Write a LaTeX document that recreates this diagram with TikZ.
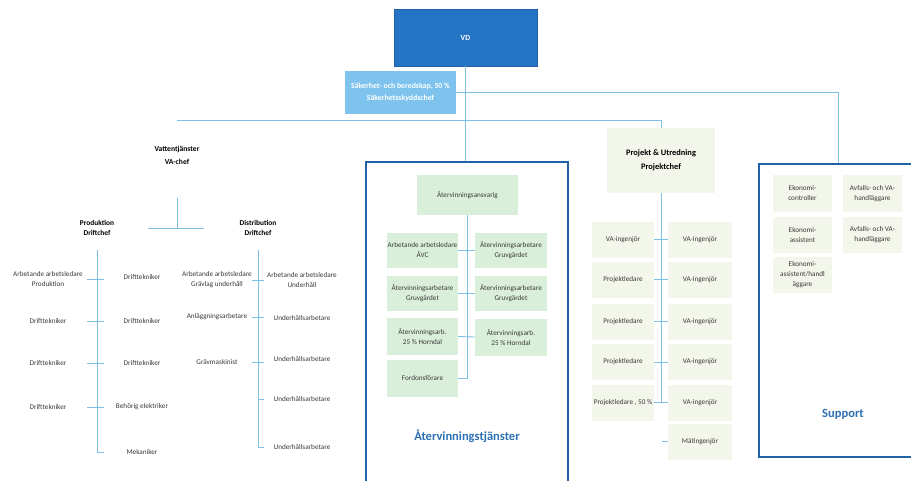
\documentclass[tikz,border=0pt]{standalone}
\usepackage{fontspec}
\setmainfont{Carlito}
\usetikzlibrary{calc}
\definecolor{vdblue}{HTML}{2473C5}
\definecolor{safeblue}{HTML}{7DC3EE}
\definecolor{lineblue}{HTML}{7EC0E6}
\definecolor{frameblue}{HTML}{1F62A6}
\definecolor{titleblue}{HTML}{2C70B4}
\definecolor{boxgreen}{HTML}{D9EFD9}
\definecolor{boxpale}{HTML}{F3F6EA}
\definecolor{itemgray}{HTML}{3A3A3A}
\tikzstyle{conn}=[draw=lineblue, line width=0.9pt]
\tikzstyle{item}=[align=center, inner sep=0pt, text=itemgray, font=\fontsize{7.2}{10}\selectfont]
\tikzstyle{leaf}=[item, minimum height=20pt]
\tikzstyle{head}=[align=center, inner sep=0pt, font=\fontsize{7.6}{13}\selectfont\bfseries]
\tikzstyle{subhead}=[align=center, inner sep=0pt, minimum height=44pt, font=\fontsize{7.4}{10}\selectfont\bfseries]
\tikzstyle{topbox}=[align=center, inner sep=0pt, text=white, font=\fontsize{7.8}{12}\selectfont\bfseries]
\tikzstyle{gbox}=[item, fill=boxgreen, minimum height=35pt]
\tikzstyle{pbox}=[item, fill=boxpale, minimum height=36pt]
\tikzstyle{frame}=[draw=frameblue, line width=1.8pt]
\tikzstyle{title}=[text=titleblue, font=\fontsize{12.5}{14}\selectfont\bfseries]

\begin{document}
\begin{tikzpicture}[x=1pt,y=-1pt]
	\fill[white] (0,0) rectangle (911,480);
	\useasboundingbox (0,0) rectangle (911,480);

	\node[topbox, fill=vdblue, draw=vdblue!85!black, minimum width=143pt, minimum height=57pt](vd) at (465.5,37.5){VD};
	\node[topbox, fill=safeblue, minimum width=111pt, minimum height=43pt](safety) at (400.5,92.5){Säkerhet- och beredskap, 50 \%\\Säkerhetsskyddschef};

	\node[frame, minimum width=202pt, minimum height=330pt](atv) at (467,327){};
	\node[frame, minimum width=158pt, minimum height=293pt](sup) at (838,310.5){};

	\node[head, minimum width=100pt, minimum height=86pt](vatten) at (177,155){Vattentjänster\\VA-chef};
	\node[pbox, font=\fontsize{8.4}{14}\selectfont\bfseries, text=black, minimum width=108pt, minimum height=65pt](proj) at (661,160.5){Projekt \& Utredning\\Projektchef};

	\coordinate (bus) at (466,120);
	\draw[conn] (vd.south) -- (vd.south |- atv.north);
	\draw[conn] (safety.east) -| (sup.north);
	\draw[conn] (bus -| vatten.north) -- (bus -| proj.north) -- (proj.north);

	% Vattentjänster
	\coordinate (vfoot) at (177,228);
	\draw[conn] (vatten.south) -- (vfoot);
	\draw[conn] ([xshift=-29pt]vfoot) -- ([xshift=27pt]vfoot);
	\node[subhead, minimum width=60pt](prod) at (97,228){Produktion\\Driftchef};
	\node[subhead, minimum width=60pt](dist) at (258,228){Distribution\\Driftchef};

	\node[leaf, minimum width=78pt](lp1) at (48,279){Arbetande arbetsledare\\Produktion};
	\node[leaf, minimum width=78pt](lp2) at (48,321){Drifttekniker};
	\node[leaf, minimum width=78pt](lp3) at (48,363){Drifttekniker};
	\node[leaf, minimum width=78pt](lp4) at (48,407){Drifttekniker};
	\node[leaf, minimum width=76pt](rp1) at (142,277){Drifttekniker};
	\node[leaf, minimum width=76pt](rp2) at (142,321){Drifttekniker};
	\node[leaf, minimum width=76pt](rp3) at (142,363){Drifttekniker};
	\node[leaf, minimum width=76pt](rp4) at (142,407){Behörig elektriker};
	\node[leaf, minimum width=76pt](rp5) at (142,452){Mekaniker};
	\draw[conn] (prod.south) |- (rp5.west);
	\draw[conn] (lp1.east) -- (lp1.east -| rp1.west);
	\draw[conn] (lp2.east) -- (rp2.west);
	\draw[conn] (lp3.east) -- (rp3.west);
	\draw[conn] (lp4.east) -- (rp4.west);

	\node[leaf, minimum width=70pt](dl1) at (217,280){Arbetande arbetsledare\\Grävlag underhåll};
	\node[leaf, minimum width=70pt](dl2) at (217,317){Anläggningsarbetare};
	\node[leaf, minimum width=70pt](dl3) at (217,362){Grävmaskinist};
	\node[leaf, minimum width=76pt](dr1) at (302,280){Arbetande arbetsledare\\Underhåll};
	\node[leaf, minimum width=76pt](dr2) at (302,318){Underhållsarbetare};
	\node[leaf, minimum width=76pt](dr3) at (302,359){Underhållsarbetare};
	\node[leaf, minimum width=76pt](dr4) at (302,399){Underhållsarbetare};
	\node[leaf, minimum width=76pt](dr5) at (302,447){Underhållsarbetare};
	\draw[conn] (dist.south) |- (dr5.west);
	\draw[conn] (dl1.east) -- (dr1.west);
	\draw[conn] (dl2.east) -- (dl2.east -| dr2.west);
	\draw[conn] (dl3.east) -- (dl3.east -| dr3.west);
	\draw[conn] (dist.south |- dr4.west) -- (dr4.west);

	% Återvinningstjänster
	\node[gbox, minimum width=101pt, minimum height=40pt](ansv) at (467.5,195){Återvinningsansvarig};
	\node[gbox, minimum width=71pt](a1) at (422.5,250.5){Arbetande arbetsledare\\ÅVC};
	\node[gbox, minimum width=71pt](a2) at (422.5,293.5){Återvinningsarbetare\\Gruvgärdet};
	\node[gbox, minimum width=71pt, minimum height=37pt](a3) at (422.5,336.5){Återvinningsarb.\\25 \% Horndal};
	\node[gbox, minimum width=71pt, minimum height=37pt](a4) at (422.5,378.5){Fordonsförare};
	\node[gbox, minimum width=72pt](b1) at (511,250.5){Återvinningsarbetare\\Gruvgärdet};
	\node[gbox, minimum width=72pt](b2) at (511,293.5){Återvinningsarbetare\\Gruvgärdet};
	\node[gbox, minimum width=72pt, minimum height=37pt](b3) at (511,337){Återvinningsarb.\\25 \% Horndal};
	\draw[conn] (ansv.south) |- (a4.east);
	\draw[conn] (a1.east) -- (b1.west);
	\draw[conn] (a2.east) -- (b2.west);
	\draw[conn] (a3.east) -- (b3.west);
	\node[title](atvtitle) at (467,436){Återvinningstjänster};

	% Projekt & Utredning
	\node[pbox, minimum width=62pt](pl1) at (623,239.5){VA-ingenjör};
	\node[pbox, minimum width=62pt](pl2) at (623,279.5){Projektledare};
	\node[pbox, minimum width=62pt](pl3) at (623,321.5){Projektledare};
	\node[pbox, minimum width=62pt](pl4) at (623,362){Projektledare};
	\node[pbox, minimum width=62pt](pl5) at (623,402.5){Projektledare , 50 \%};
	\node[pbox, minimum width=64pt](pr1) at (700,239.5){VA-ingenjör};
	\node[pbox, minimum width=64pt](pr2) at (700,279.5){VA-ingenjör};
	\node[pbox, minimum width=64pt](pr3) at (700,321.5){VA-ingenjör};
	\node[pbox, minimum width=64pt](pr4) at (700,362){VA-ingenjör};
	\node[pbox, minimum width=64pt](pr5) at (700,402.5){VA-ingenjör};
	\node[pbox, minimum width=64pt](pr6) at (700,441.5){Mätingenjör};
	\draw[conn] (proj.south) -- (proj.south |- pl5.east);
	\foreach \i in {1,...,5}
		\draw[conn] (pl\i.east) -- (pr\i.west);
	\draw[conn] (pr6.west) -- ++(-6,0);

	% Support
	\node[pbox, minimum width=59pt, minimum height=37pt](s1) at (802.5,193.5){Ekonomi-\\controller};
	\node[pbox, minimum width=59pt](s2) at (802.5,235){Ekonomi-\\assistent};
	\node[pbox, minimum width=59pt](s3) at (802.5,275){Ekonomi-\\assistent/handl\\äggare};
	\node[pbox, minimum width=59pt, minimum height=37pt](s4) at (872.5,193.5){Avfalls- och VA-\\handläggare};
	\node[pbox, minimum width=59pt](s5) at (872.5,235){Avfalls- och VA-\\handläggare};
	\node[title](suptitle) at (843,414){Support};
\end{tikzpicture}
\end{document}
